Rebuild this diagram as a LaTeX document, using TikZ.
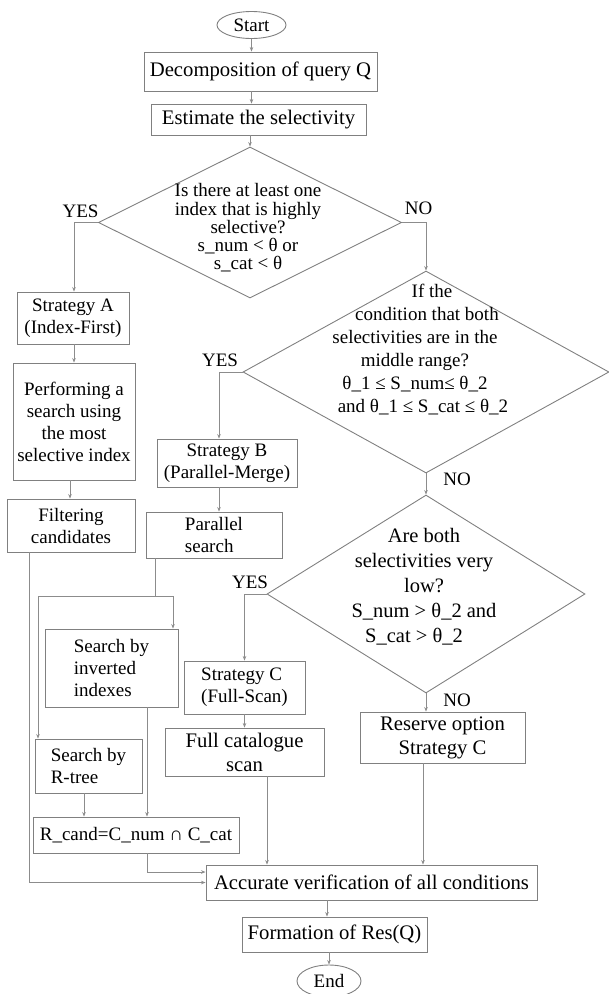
\documentclass[tikz,border=0pt]{standalone}
\usepackage{fontspec}
\setmainfont{Liberation Serif}
\usetikzlibrary{shapes.geometric,arrows.meta}
\tikzset{
  box/.style={draw=black!50, line width=0.9pt, inner sep=1pt, align=center, font=\fontsize{19}{22}\selectfont},
  bigbox/.style={box, font=\fontsize{20.7}{24}\selectfont},
  term/.style={box, ellipse},
  decision/.style={draw=black!50, line width=0.9pt, diamond, inner sep=0pt},
  qtext/.style={align=center, font=\fontsize{19}{18.3}\selectfont},
  answer/.style={font=\fontsize{19}{22}\selectfont},
  flow/.style={draw=black!45, line width=0.8pt, -{Stealth[length=4.5pt,width=3.5pt]}},
  dims/.style 2 args={minimum width=#1pt, minimum height=#2pt}
}
\begin{document}
\begin{tikzpicture}[x=1pt, y=-1pt]
  \useasboundingbox (0,0) rectangle (609,994);
  % main column
  \node (start) at (251.5,25) [term, dims={69}{27}] {Start};
  \node (decomp) at (260.5,71.5) [bigbox, dims={233}{39}] {Decomposition of query Q};
  \node (estim) at (258.5,119.5) [bigbox, dims={215}{31}] {Estimate the selectivity};
  \node (q1) at (250,222.5) [decision, dims={303}{151}] {};
  \node (q1txt) at (248,228) [qtext] {Is there at least one\\index that is highly\\selective?\\s\_num < θ or\\s\_cat < θ};
  % strategy A
  \node (stratA) at (73,318) [box, dims={112}{52}] {Strategy A\\(Index-First)};
  \node (search) at (74,421.5) [box, dims={122}{117}] {Performing a\\search using\\the most\\selective index};
  \node (filter) at (71,525.5) [box, dims={128}{53}] {Filtering\\candidates};
  % strategy B
  \node (q2) at (426,372) [decision, dims={366}{202}] {};
  \node (q2txt) at (415,349.5) [qtext, font=\fontsize{19}{23}\selectfont] {\hspace*{34pt}If the\\ \hspace*{24pt}condition that both\\selectivities are in the\\middle range?\hspace*{22pt}\\θ\_1 ≤ S\_num≤ θ\_2\hspace*{8pt}\\ \hspace*{16pt}and θ\_1 ≤ S\_cat ≤ θ\_2};
  \node (stratB) at (227,463) [box, dims={140}{48}] {Strategy B\\(Parallel-Merge)};
  \node (parallel) at (214,535) [box, dims={136}{46}, align=left] {Parallel\\search};
  \node (inverted) at (111.5,668) [box, dims={133}{78}, align=left] {Search by\\inverted\\indexes};
  \node (rtree) at (88.5,766) [box, dims={107}{54}, align=left] {Search by\\R-tree};
  \node (rcand) at (136,835) [box, dims={206}{36}] {R\_cand=C\_num ∩ C\_cat};
  % strategy C
  \node (q3) at (426,594) [decision, dims={318}{198}] {};
  \node (q3txt) at (424,587) [qtext, font=\fontsize{20.5}{25}\selectfont] {Are both\\selectivities very\\low?\\S\_num > θ\_2 and\\S\_cat > θ\_2\hspace*{20pt}};
  \node (stratC) at (244.5,687.5) [box, dims={121}{53}, align=left] {Strategy C\\(Full-Scan)};
  \node (fullscan) at (244.5,752) [bigbox, dims={159}{48}] {Full catalogue\\scan};
  \node (reserve) at (442.5,737.5) [bigbox, dims={165}{51}] {Reserve option\\Strategy C};
  % end
  \node (verify) at (371.5,882.5) [bigbox, dims={331}{35}] {Accurate verification of all conditions};
  \node (result) at (334.5,934.5) [bigbox, dims={185}{35}] {Formation of Res(Q)};
  \node (stop) at (329,981) [term, dims={64}{32}] {End};
  % Labels
  \node (yes1) at (80.5,211) [answer] {YES};
  \node (no1) at (418.5,208) [answer] {NO};
  \node (yes2) at (220,360) [answer] {YES};
  \node (no2) at (457,479) [answer] {NO};
  \node (yes3) at (250,582) [answer] {YES};
  \node (no3) at (457,700) [answer] {NO};
  % connectors
  \draw[flow] (start.south) -- ([xshift=-9pt]decomp.north);
  \draw[flow] ([xshift=-9pt]decomp.south) -- ([xshift=-7pt]estim.north);
  \draw[flow] ([xshift=-8.5pt]estim.south) -- (q1.north);
  \draw[flow] (q1.west) -| ([xshift=1pt]stratA.north);
  \draw[flow] (q1.east) -| (q2.north);
  \draw[flow] ([xshift=1pt]stratA.south) -- (search.north);
  \draw[flow] ([xshift=-4pt]search.south) -- ([xshift=-1pt]filter.north);
  \draw[flow] ([xshift=23pt]filter.south west) |- (verify.west);
  \draw[flow] (q2.west) -| ([xshift=-8pt]stratB.north);
  \draw[flow] ([xshift=-8pt]stratB.south) -- ([xshift=5pt]parallel.north);
  \draw[flow] ([xshift=-59pt]parallel.south) -- ++(0,38) coordinate (fork) -| ([xshift=61.5pt]inverted.north);
  \draw[flow] (fork) -| ([xshift=-50.5pt]rtree.north);
  \draw[flow] ([xshift=35.5pt]inverted.south) -- ([xshift=11pt]rcand.north);
  \draw[flow] ([xshift=-4.5pt]rtree.south) -- ([xshift=-52pt]rcand.north);
  \draw[flow] ([xshift=11pt]rcand.south) |- ([yshift=10.5pt]verify.west);
  \draw[flow] (q2.south) -- (q3.north);
  \draw[flow] (q3.west) -| (stratC.north);
  \draw[flow] (stratC.south) -- (fullscan.north);
  \draw[flow] (q3.south) -- ([xshift=-16.5pt]reserve.north);
  \draw[flow] ([xshift=22.5pt]fullscan.south) -- ([xshift=-104.5pt]verify.north);
  \draw[flow] ([xshift=-19.5pt]reserve.south) -- ([xshift=51.5pt]verify.north);
  \draw[flow] ([xshift=-44.5pt]verify.south) -- ([xshift=-7.5pt]result.north);
  \draw[flow] ([xshift=-5.5pt]result.south) -- (stop.north);
\end{tikzpicture}
\end{document}
